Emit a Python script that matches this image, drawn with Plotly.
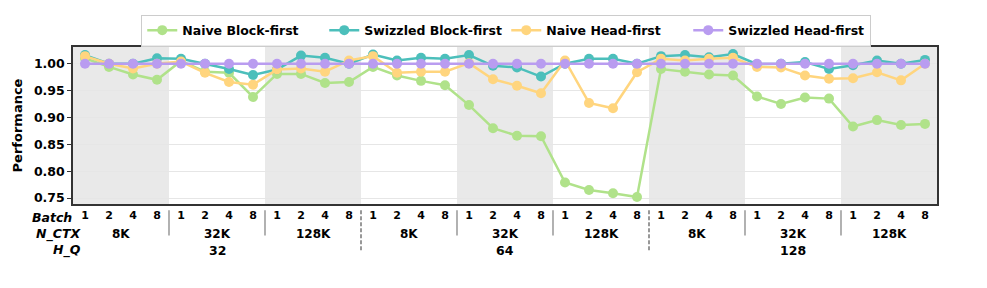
import plotly.graph_objects as go

batch_labels = ["1", "2", "4", "8"]
nctx_labels = ["8K", "32K", "128K"]
hq_labels = ["32", "64", "128"]

naive_block = [1.010, 0.994, 0.980, 0.970, 1.005, 0.985, 0.983, 0.938, 0.981, 0.981, 0.964, 0.966,
               0.994, 0.978, 0.968, 0.960, 0.923, 0.880, 0.866, 0.865, 0.779, 0.765, 0.759, 0.752,
               0.990, 0.985, 0.980, 0.978, 0.939, 0.925, 0.937, 0.935, 0.883, 0.895, 0.886, 0.888]
swizzled_block = [1.016, 1.000, 1.000, 1.010, 1.009, 1.000, 0.990, 0.979, 0.989, 1.015, 1.011, 1.000,
                  1.017, 1.006, 1.011, 1.009, 1.016, 0.996, 0.993, 0.976, 1.000, 1.009, 1.009, 1.000,
                  1.014, 1.016, 1.012, 1.018, 0.999, 1.000, 1.003, 0.990, 0.997, 1.006, 1.000, 1.007]
naive_head = [1.014, 1.000, 0.991, 1.000, 1.004, 0.983, 0.966, 0.961, 0.989, 0.991, 0.985, 1.006,
              1.014, 0.983, 0.985, 0.985, 1.001, 0.971, 0.959, 0.945, 1.006, 0.927, 0.917, 0.984,
              1.009, 1.006, 1.009, 1.011, 0.994, 0.993, 0.978, 0.972, 0.973, 0.984, 0.969, 1.000]
swizzled_head = [1.0] * 36

series = [
    ("Naive Block-first", naive_block, "#b0e28a"),
    ("Swizzled Block-first", swizzled_block, "#4cbfbb"),
    ("Naive Head-first", naive_head, "#ffd57e"),
    ("Swizzled Head-first", swizzled_head, "#b99cf0"),
]

n_b, n_c, n_h = len(batch_labels), len(nctx_labels), len(hq_labels)
x = list(range(n_b * n_c * n_h))
tick_text = batch_labels * (n_c * n_h)

FONT = "DejaVu Sans"
fig = go.Figure()
for name, vals, col in series:
    fig.add_trace(go.Scatter(x=x, y=vals, name=name, mode="lines+markers",
                             line=dict(color=col, width=2.5),
                             marker=dict(color=col, size=10)))

shapes = []
annotations = []
for g in range(n_c * n_h):
    if g % 2 == 0:
        shapes.append(dict(type="rect", xref="x", yref="paper", x0=g * n_b - 0.5, x1=g * n_b + n_b - 0.5,
                           y0=0, y1=1, fillcolor="#e9e9e9", line=dict(width=0), layer="below"))
for g in range(1, n_c * n_h):
    xs = g * n_b - 0.5
    if g % n_c == 0:
        shapes.append(dict(type="line", xref="x", yref="paper", x0=xs, x1=xs, y0=-0.04, y1=-0.3,
                           line=dict(color="#777777", width=1.5, dash="4px,2px")))
    else:
        shapes.append(dict(type="line", xref="x", yref="paper", x0=xs, x1=xs, y0=-0.04, y1=-0.2,
                           line=dict(color="#888888", width=1.3)))
for g in range(n_c * n_h):
    annotations.append(dict(x=g * n_b + (n_b - 1) / 2, y=-0.19, xref="x", yref="paper",
                            yanchor="middle", text=nctx_labels[g % n_c], showarrow=False,
                            font=dict(family=FONT, size=12, color="black", weight="bold")))
for h in range(n_h):
    annotations.append(dict(x=h * n_b * n_c + (n_b * n_c - 1) / 2, y=-0.295, xref="x", yref="paper",
                            yanchor="middle", text=hq_labels[h], showarrow=False,
                            font=dict(family=FONT, size=12.5, color="black", weight="bold")))
for lab, yy, xs in [("Batch", -0.083, 1), ("N_CTX", -0.19, 10), ("H_Q", -0.295, 10)]:
    annotations.append(dict(x=0.0, y=yy, xref="paper", yref="paper", xanchor="right", yanchor="middle",
                            xshift=xs, text=lab, showarrow=False,
                            font=dict(family=FONT, size=12.5, color="black", weight="bold", style="italic")))

fig.update_layout(
    width=987, height=288,
    margin=dict(l=65, r=58, t=39, b=92, autoexpand=False),
    paper_bgcolor="white", plot_bgcolor="white",
    font=dict(family=FONT, size=12.5, color="black"),
    shapes=shapes, annotations=annotations,
    legend=dict(orientation="h", x=0.079, xanchor="left", y=1.105, yanchor="middle",
                bordercolor="#cccccc", borderwidth=1, bgcolor="rgba(255,255,255,0.9)",
                font=dict(family=FONT, size=12.5, color="black", weight="bold"),
                entrywidth=137, entrywidthmode="pixels"),
    showlegend=True,
)
fig.update_xaxes(range=[-0.5, len(x) - 0.5], tickvals=x, ticktext=tick_text, showgrid=False,
                 zeroline=False, showline=True, mirror=True, linecolor="#333333", linewidth=1.5,
                 ticks="", tickfont=dict(family=FONT, size=11, color="black", weight="bold"))
fig.update_yaxes(range=[0.739, 1.031], tickvals=[0.75, 0.80, 0.85, 0.90, 0.95, 1.00],
                 ticktext=["0.75", "0.80", "0.85", "0.90", "0.95", "1.00"],
                 showgrid=True, gridcolor="#e6e6e6", gridwidth=1, zeroline=False,
                 showline=True, mirror=True, linecolor="#333333", linewidth=1.5,
                 ticks="outside", ticklen=4, tickcolor="#333333",
                 tickfont=dict(family=FONT, size=12.5, color="black", weight="bold"),
                 title=dict(text="Performance", standoff=8,
                            font=dict(family=FONT, size=13, color="black", weight="bold")))

fig.write_html("out.html")
